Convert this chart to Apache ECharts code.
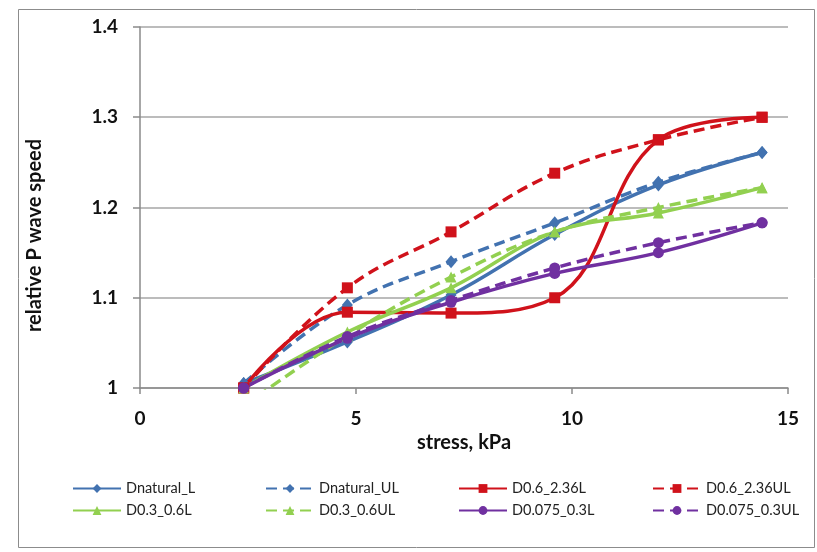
<!DOCTYPE html>
<html>
<head>
<meta charset="utf-8">
<script src="https://cdn.jsdelivr.net/npm/echarts@6/dist/echarts.min.js"></script>
<style>
  html, body { margin: 0; padding: 0; background: #fff; }
  #chart { width: 817px; height: 552px; }
</style>
</head>
<body>
<div id="chart"></div>
<script>
// Loading stress (kPa) at each measurement step
const stress = [2.4, 4.8, 7.2, 9.6, 12, 14.4];

// Relative P-wave speed per gradation: _L = loading, _UL = unloading
const dnaturalL  = [1.005, 1.051, 1.103, 1.170, 1.225, 1.261];
const dnaturalUL = [1.005, 1.092, 1.140, 1.183, 1.228, 1.261];
const d06L       = [1.000, 1.084, 1.083, 1.100, 1.275, 1.300];
const d06UL      = [1.000, 1.111, 1.173, 1.238, 1.275, 1.300];
const d03L       = [1.000, 1.062, 1.111, 1.173, 1.194, 1.222];
const d03UL      = [0.980, 1.058, 1.123, 1.173, 1.200, 1.222];
const d0075L     = [1.000, 1.055, 1.095, 1.127, 1.150, 1.183];
const d0075UL    = [1.000, 1.057, 1.097, 1.133, 1.161, 1.183];

const xTicks = [0, 5, 10, 15];
const yTicks = [1, 1.1, 1.2, 1.3, 1.4];

const BLUE = '#4272b0', RED = '#d0121b', GREEN = '#92d050', PURPLE = '#7030a0';
const FONT = 'Lato, "Open Sans", sans-serif';
const DASH = [11, 6];

function pairs(values) {
  return stress.map((x, i) => [x, values[i]]);
}

function makeSeries(name, values, color, symbol, dashed) {
  return {
    name: name,
    type: 'line',
    data: pairs(values),
    smooth: 0.4,
    clip: true,
    symbol: symbol,
    symbolSize: symbol === 'diamond' ? [11, 13] : 11,
    lineStyle: { color: color, width: 3.5, type: dashed ? DASH : 'solid' },
    itemStyle: { color: color },
    emphasis: { disabled: true }
  };
}

const series = [
  makeSeries('Dnatural_L', dnaturalL, BLUE, 'diamond', false),
  makeSeries('Dnatural_UL', dnaturalUL, BLUE, 'diamond', true),
  makeSeries('D0.6_2.36L', d06L, RED, 'rect', false),
  makeSeries('D0.6_2.36UL', d06UL, RED, 'rect', true),
  makeSeries('D0.3_0.6L', d03L, GREEN, 'triangle', false),
  makeSeries('D0.3_0.6UL', d03UL, GREEN, 'triangle', true),
  makeSeries('D0.075_0.3L', d0075L, PURPLE, 'circle', false),
  makeSeries('D0.075_0.3UL', d0075UL, PURPLE, 'circle', true)
];

// Legend laid out as four columns of two entries
const legendCols = [
  [series[0].name, series[4].name],
  [series[1].name, series[5].name],
  [series[2].name, series[6].name],
  [series[3].name, series[7].name]
];
const legendLeft = [72, 265, 458, 652];
const legends = legendCols.map((names, i) => ({
  data: names,
  orient: 'vertical',
  left: legendLeft[i],
  top: 481,
  itemWidth: 48,
  itemHeight: 11,
  itemGap: 7,
  padding: 0,
  selectedMode: false,
  textStyle: { fontFamily: FONT, fontSize: 14.5, color: '#222' }
}));

const chart = echarts.init(document.getElementById('chart'), null, { renderer: 'canvas' });
chart.setOption({
  animation: false,
  backgroundColor: '#fff',
  grid: { left: 140, right: 29, top: 27, bottom: 164, containLabel: false },
  graphic: [{
    type: 'rect',
    shape: { x: 18.5, y: 9.5, width: 796, height: 538 },
    style: { fill: 'none', stroke: '#8c8c8c', lineWidth: 1 },
    z: -1
  }],
  legend: legends,
  xAxis: {
    type: 'value',
    min: xTicks[0],
    max: xTicks[xTicks.length - 1],
    interval: xTicks[1] - xTicks[0],
    name: 'stress, kPa',
    nameLocation: 'middle',
    nameGap: 40,
    nameTextStyle: { fontFamily: FONT, fontSize: 20, fontWeight: 'bold', color: '#111' },
    axisLine: { lineStyle: { color: '#8a8a8a', width: 1.5 } },
    axisTick: { show: true, length: 6, inside: false, lineStyle: { color: '#8a8a8a', width: 1.5 } },
    axisLabel: { margin: 21, fontFamily: FONT, fontSize: 19, fontWeight: 'bold', color: '#111' },
    splitLine: { show: false }
  },
  yAxis: {
    type: 'value',
    min: yTicks[0],
    max: yTicks[yTicks.length - 1],
    interval: 0.1,
    name: 'relative P wave speed',
    nameLocation: 'middle',
    nameGap: 95,
    nameRotate: 90,
    nameTextStyle: { fontFamily: FONT, fontSize: 20, fontWeight: 'bold', color: '#111', padding: [0, 56, 0, 0] },
    axisLine: { show: true, lineStyle: { color: '#8a8a8a', width: 1.5 } },
    axisTick: { show: true, length: 7, inside: false, lineStyle: { color: '#8a8a8a', width: 1.5 } },
    axisLabel: {
      margin: 22, fontFamily: FONT, fontSize: 19, fontWeight: 'bold', color: '#111',
      formatter: v => String(Math.round(v * 10) / 10)
    },
    splitLine: { show: true, lineStyle: { color: '#a6a6a6', width: 1.5 } }
  },
  series: series
});
</script>
</body>
</html>
